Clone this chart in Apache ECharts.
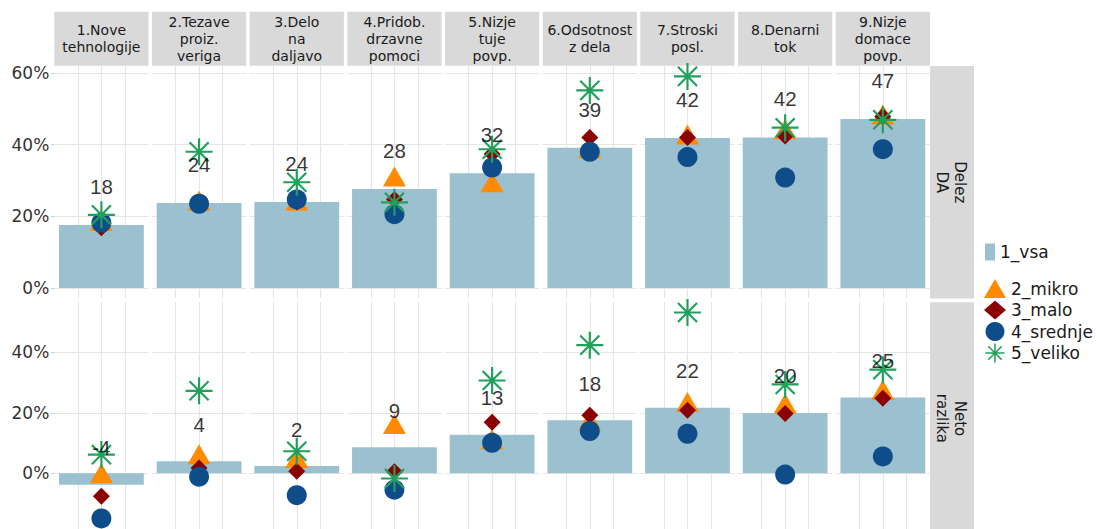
<!DOCTYPE html>
<html><head><meta charset="utf-8">
<script src="https://cdn.jsdelivr.net/npm/echarts@6/dist/echarts.min.js"></script>
<style>html,body{margin:0;padding:0;background:#fff;overflow:hidden}#c{width:1096px;height:529px}</style>
</head><body><div id="c"></div>
<script>
// ---- data ----
const categories = ['1.Nove\ntehnologije','2.Tezave\nproiz.\nveriga','3.Delo\nna\ndaljavo','4.Pridob.\ndrzavne\npomoci','5.Nizje\ntuje\npovp.','6.Odsotnost\nz dela','7.Stroski\nposl.','8.Denarni\ntok','9.Nizje\ndomace\npovp.'];
const rowLabels = ['Delez\nDA', 'Neto\nrazlika'];
const seriesNames = ['1_vsa', '2_mikro', '3_malo', '4_srednje', '5_veliko'];

const vsaDelez     = [17.6, 23.7, 24.0, 27.6, 32.0, 39.1, 41.8, 42.0, 47.1];
const mikroDelez   = [18.7, 24.3, 24.3, 31.1, 29.5, 39.0, 42.8, 44.3, 48.4];
const maloDelez    = [16.8, 23.5, 24.0, 24.7, 37.4, 42.0, 42.0, 42.4, 47.8];
const srednjeDelez = [18.2, 23.5, 24.7, 20.6, 33.6, 38.0, 36.5, 30.8, 38.7];
const velikoDelez  = [20.4, 38.0, 29.5, 23.9, 38.7, 55.1, 59.0, 44.7, 46.9];

const vsaNeto      = [-3.8, 4.0, 2.4, 8.6, 12.8, 17.6, 21.7, 20.0, 25.1];
const mikroNeto    = [0.0, 6.3, 5.1, 16.3, 11.3, 17.5, 23.6, 23.1, 27.6];
const maloNeto     = [-7.6, 1.8, 0.7, 0.5, 16.9, 19.2, 20.9, 19.8, 24.8];
const srednjeNeto  = [-14.9, -1.1, -7.2, -5.4, 10.1, 14.0, 13.1, -0.4, 5.6];
const velikoNeto   = [6.2, 27.3, 7.3, -1.7, 30.7, 42.4, 53.2, 29.4, 34.3];

const yTickStep = 20;

// ---- layout / style ----
const colLeft0 = 54.3, colPitch = 97.68, panelW = 94.2;
const rows = [
  { vsa: vsaDelez, mikro: mikroDelez, malo: maloDelez, srednje: srednjeDelez, veliko: velikoDelez,
    min: -2.95, max: 61.9, top: 66, height: 232.6, labelOffset: -38.5 },
  { vsa: vsaNeto, mikro: mikroNeto, malo: maloNeto, srednje: srednjeNeto, veliko: velikoNeto,
    min: -18.4, max: 56.6, top: 302.2, height: 232.5, labelOffset: -37 }
];
const starPath = 'path://M46 0L54 0L54 100L46 100Z M0 46L100 46L100 54L0 54Z M17.47 11.81L88.19 82.53L82.53 88.19L11.81 17.47Z M17.47 88.19L11.81 82.53L82.53 11.81L88.19 17.47Z';
const font = 'DejaVu Sans';
const gridColor = '#e6e6e6';

const grid = [], xAxis = [], yAxis = [], series = [], graphic = [];
rows.forEach((row, r) => {
  categories.forEach((cat, c) => {
    const gi = r * categories.length + c;
    grid.push({ left: colLeft0 + c * colPitch, top: row.top, width: panelW, height: row.height });
    xAxis.push({
      type: 'value', gridIndex: gi, min: 0.5, max: 1.5, interval: 0.25,
      axisLabel: { show: false }, axisLine: { show: false }, axisTick: { show: false },
      splitLine: { show: true, showMinLine: false, showMaxLine: false, lineStyle: { color: gridColor, width: 1.2 } }
    });
    yAxis.push({
      type: 'value', gridIndex: gi, min: row.min, max: row.max,
      minInterval: yTickStep, maxInterval: yTickStep, splitNumber: 3,
      axisLine: { show: false },
      axisTick: { show: c === 0, length: 3, lineStyle: { color: '#c8c8c8' } },
      axisLabel: { show: c === 0, showMinLabel: false, showMaxLabel: false,
        formatter: v => v + '%', fontFamily: font, fontSize: 17, color: '#333', margin: 5 },
      splitLine: { show: true, showMinLine: false, showMaxLine: false, lineStyle: { color: gridColor, width: 1.2 } }
    });
    const ax = { xAxisIndex: gi, yAxisIndex: gi };
    series.push(Object.assign({
      type: 'bar', name: seriesNames[0], data: [[1, row.vsa[c]]], barWidth: panelW * 0.9,
      itemStyle: { color: '#9bc0cf' }, silent: true, animation: false
    }, ax));
    const pts = [
      [seriesNames[1], row.mikro[c], 'triangle', [23, 20], '#ff8c00'],
      [seriesNames[2], row.malo[c], 'diamond', 17, '#8b0000'],
      [seriesNames[3], row.srednje[c], 'circle', 20, '#0f4c8a'],
      [seriesNames[4], row.veliko[c], starPath, 27, '#21a05b']
    ];
    pts.forEach(p => series.push(Object.assign({
      type: 'scatter', name: p[0], data: [[1, p[1]]], symbol: p[2], symbolSize: p[3],
      itemStyle: { color: p[4], opacity: 1 }, animation: false, silent: true, clip: false
    }, ax)));
    series.push(Object.assign({
      type: 'scatter', name: 'label', data: [[1, row.vsa[c]]], symbolSize: 1, z: 5,
      itemStyle: { color: 'rgba(0,0,0,0)' }, animation: false, silent: true,
      label: { show: true, position: 'inside', offset: [0, row.labelOffset],
        formatter: p => String(Math.round(p.value[1])),
        fontFamily: 'Liberation Sans', fontSize: 20.5, color: '#000' }
    }, ax));
  });
});

// strips (top)
categories.forEach((cat, c) => {
  const x = colLeft0 + c * colPitch;
  graphic.push({ type: 'rect', shape: { x: x, y: 11.7, width: panelW, height: 54 }, style: { fill: '#d9d9d9' }, silent: true });
  graphic.push({ type: 'text', x: x + panelW / 2, y: 38.8, silent: true,
    style: { text: cat, x: 0, y: 0, align: 'center', verticalAlign: 'middle', textAlign: 'center', textVerticalAlign: 'middle',
      font: '14px "DejaVu Sans"', lineHeight: 17, fill: '#1a1a1a' } });
});
// strips (right)
rows.forEach((row, r) => {
  graphic.push({ type: 'rect', shape: { x: 930, y: row.top, width: 44, height: row.height }, style: { fill: '#d9d9d9' }, silent: true });
  graphic.push({ type: 'text', x: 951, y: row.top + row.height / 2, rotation: -Math.PI / 2, silent: true,
    style: { text: rowLabels[r], x: 0, y: 0, align: 'center', verticalAlign: 'middle', textAlign: 'center', textVerticalAlign: 'middle',
      font: '15px "DejaVu Sans"', lineHeight: 18, fill: '#1a1a1a' } });
});

const chart = echarts.init(document.getElementById('c'), null, { renderer: 'svg' });
chart.setOption({
  animation: false,
  backgroundColor: '#fff',
  grid, xAxis, yAxis, series, graphic,
  legend: [
    { data: [{ name: seriesNames[0], icon: 'rect' }], left: 985, top: 243.5, padding: 0, itemWidth: 10, itemHeight: 17,
      selectedMode: false, textStyle: { fontFamily: font, fontSize: 17, color: '#1a1a1a' } },
    { data: seriesNames.slice(1), orient: 'vertical', left: 984, top: 279, padding: 0, itemWidth: 22, itemHeight: 19, itemGap: 2.5,
      selectedMode: false, textStyle: { fontFamily: font, fontSize: 17, color: '#1a1a1a' } }
  ]
});
</script></body></html>
